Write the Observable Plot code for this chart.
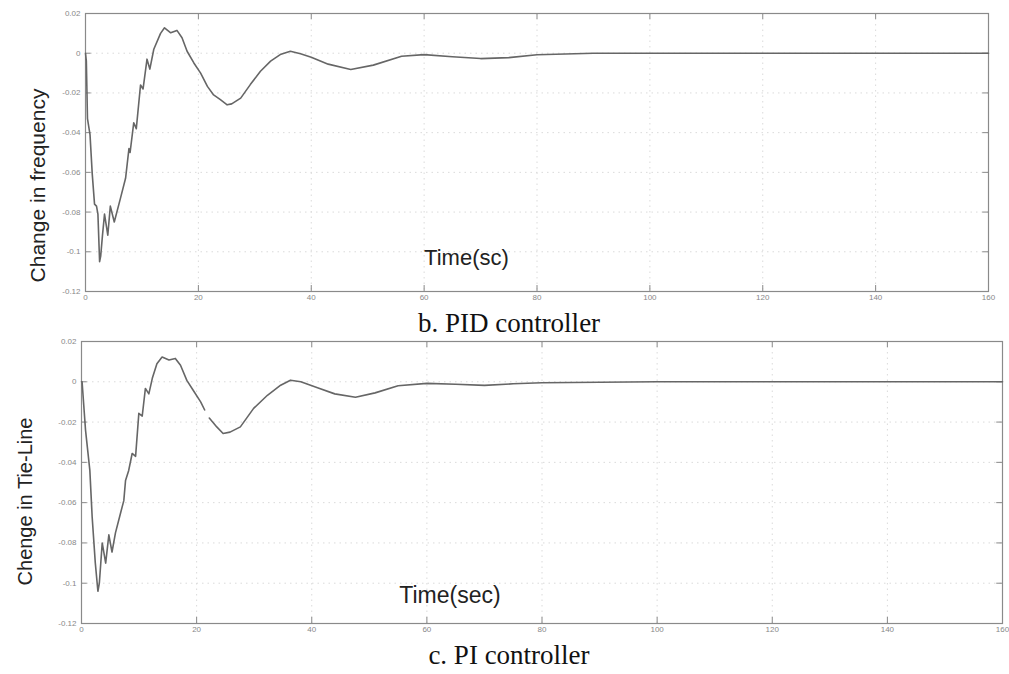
<!DOCTYPE html>
<html>
<head>
<meta charset="utf-8">
<script src="https://cdn.jsdelivr.net/npm/d3@7"></script>
<script src="https://cdn.jsdelivr.net/npm/@observablehq/plot@0.6"></script>
<style>
  html, body { margin: 0; padding: 0; background: #fff; }
  #page { position: relative; width: 1009px; height: 674px; overflow: hidden; background: #fff; }
  .panel { position: absolute; left: 0; z-index: 1; }
  .cap { position: absolute; left: 0; z-index: 2; font-family: "Liberation Serif", "Times New Roman", serif; font-size: 27px; line-height: 27px; color: #111; white-space: nowrap; }
</style>
</head>
<body>
<div id="page"></div>
<script>
// ---- data ----
const xTicks = [0, 20, 40, 60, 80, 100, 120, 140, 160];
const yTicks = [0.02, 0, -0.02, -0.04, -0.06, -0.08, -0.1, -0.12];

const pidTime = [0, 0.15, 0.35, 0.8, 1.2, 1.6, 1.95, 2.2, 2.5, 2.7, 3.0, 3.37, 3.95, 4.4, 5.1, 6.2, 7.1, 7.7, 7.9, 8.55, 9.0, 9.75, 10.2, 10.9, 11.4, 12.1, 13.3, 14.0, 15.1, 16.2, 17.1, 18.0, 19.2, 20.4, 21.6, 22.7, 23.9, 25.1, 25.9, 27.5, 29.2, 31.0, 32.8, 34.5, 36.3, 38.1, 40, 43, 47, 51, 56, 60, 65, 70, 75, 80, 90, 100, 120, 140, 160];
const pidValue = [0, -0.004, -0.033, -0.041, -0.061, -0.076, -0.077, -0.081, -0.105, -0.102, -0.092, -0.081, -0.0916, -0.077, -0.085, -0.073, -0.063, -0.048, -0.050, -0.035, -0.038, -0.016, -0.018, -0.003, -0.008, 0.002, 0.010, 0.0128, 0.0103, 0.0115, 0.0078, 0.001, -0.0049, -0.010, -0.0167, -0.021, -0.0234, -0.026, -0.0255, -0.0226, -0.0158, -0.0091, -0.004, -0.0007, 0.001, -0.0003, -0.002, -0.0055, -0.0082, -0.006, -0.0015, -0.0007, -0.0018, -0.0027, -0.0022, -0.0008, 0, 0, 0, 0, 0];

const piTime = [0, 0.1, 0.7, 1.45, 1.85, 2.4, 2.85, 3.1, 3.6, 4.2, 4.75, 5.3, 5.9, 6.8, 7.35, 7.65, 8.2, 8.8, 9.4, 9.96, 10.55, 11.1, 11.7, 12.3, 13.1, 14.0, 15.2, 16.3, 17.2, 18.3, 19.4, 20.7, 21.4, 21.8, 22.2, 23.5, 24.6, 25.8, 27.6, 29.9, 32.3, 34.6, 36.3, 38.1, 41, 44, 47.6, 51, 55, 60, 65, 70, 75, 80, 90, 100, 120, 140, 160];
const piValue = [0, 0, -0.024, -0.044, -0.067, -0.090, -0.104, -0.100, -0.080, -0.090, -0.076, -0.0845, -0.075, -0.065, -0.059, -0.049, -0.044, -0.0356, -0.037, -0.0157, -0.017, -0.0033, -0.006, 0.0017, 0.009, 0.0123, 0.0108, 0.0116, 0.0082, 0.0007, -0.0042, -0.010, -0.014, null, -0.018, -0.0224, -0.0257, -0.025, -0.0224, -0.0132, -0.0067, -0.0017, 0.0008, 0, -0.003, -0.006, -0.0077, -0.0055, -0.002, -0.0008, -0.0012, -0.0018, -0.001, -0.0005, -0.0002, 0, 0, 0, 0];

const panels = [
  {top: 0, height: 305, marginTop: 13, marginBottom: 14, marginLeft: 85, marginRight: 21,
   time: pidTime, value: pidValue, ylabel: "Change in frequency", ldx: -47, ldy: 33, lsize: 21,
   inner: "Time(sc)", innerX: 67.5, innerY: -0.103, innerSize: 22, caption: "b. PID controller", capTop: 310},
  {top: 330, height: 307, marginTop: 11, marginBottom: 14, marginLeft: 81, marginRight: 7,
   time: piTime, value: piValue, ylabel: "Chenge in Tie-Line", ldx: -56, ldy: 19, lsize: 20,
   inner: "Time(sec)", innerX: 64, innerY: -0.106, innerSize: 23, caption: "c. PI controller", capTop: 642}
];

const fmt = d => d === 0 ? "0" : String(d);
const page = document.getElementById("page");

for (const p of panels) {
  const rows = p.time.map((t, i) => ({t, v: p.value[i]}));
  const chart = Plot.plot({
    width: 1009, height: p.height,
    marginTop: p.marginTop, marginBottom: p.marginBottom, marginLeft: p.marginLeft, marginRight: p.marginRight,
    style: {background: "transparent", fontFamily: "Liberation Sans, Arial, sans-serif", overflow: "visible"},
    x: {domain: [0, 160], ticks: xTicks},
    y: {domain: [-0.12, 0.02], ticks: yTicks},
    marks: [
      Plot.gridX(xTicks, {stroke: "#dadada", strokeOpacity: 1, strokeDasharray: "1.5,4"}),
      Plot.gridY(yTicks, {stroke: "#dadada", strokeOpacity: 1, strokeDasharray: "1.5,4"}),
      Plot.ruleX(xTicks, {x: d => d, y1: -0.12, y2: -0.117, stroke: "#888"}),
      Plot.ruleX(xTicks, {x: d => d, y1: 0.02, y2: 0.017, stroke: "#888"}),
      Plot.ruleY(yTicks, {y: d => d, x1: 0, x2: 1, stroke: "#888"}),
      Plot.ruleY(yTicks, {y: d => d, x1: 160, x2: 159, stroke: "#888"}),
      Plot.frame({stroke: "#8a8a8a", strokeWidth: 1.2}),
      Plot.axisX(xTicks, {tickSize: 0, tickPadding: 3, fontSize: 8, fill: "#888", tickFormat: fmt, label: null}),
      Plot.axisY(yTicks, {tickSize: 0, tickPadding: 5, fontSize: 8, fill: "#888", tickFormat: fmt, label: null}),
      Plot.line(rows, {x: "t", y: "v", stroke: "#666", strokeWidth: 1.6, curve: "linear"}),
      Plot.text([p.inner], {x: p.innerX, y: p.innerY, text: d => d, fontSize: p.innerSize, fill: "#222", fontFamily: "Liberation Sans, Arial, sans-serif"}),
      Plot.text([p.ylabel], {frameAnchor: "left", textAnchor: "middle", lineAnchor: "middle", dx: p.ldx, dy: p.ldy, rotate: -90, text: d => d, fontSize: p.lsize, fill: "#222", fontFamily: "Liberation Sans, Arial, sans-serif"})
    ]
  });
  chart.classList.add("panel");
  chart.style.top = p.top + "px";
  page.appendChild(chart);

  const cap = document.createElement("div");
  cap.className = "cap";
  cap.style.top = p.capTop + "px";
  cap.style.textAlign = "center";
  cap.style.width = "1018px";
  cap.textContent = p.caption;
  page.appendChild(cap);
}
</script>
</body>
</html>
